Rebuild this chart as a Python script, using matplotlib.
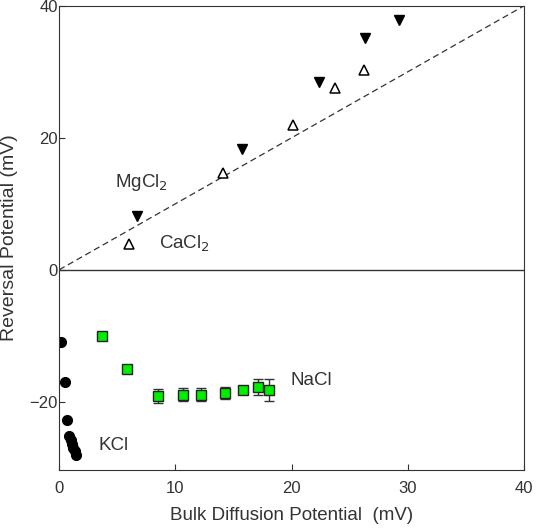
import matplotlib
matplotlib.use('Agg')
import matplotlib.pyplot as plt

plt.rcParams['font.family'] = ['Liberation Sans', 'DejaVu Sans']

# KCl (filled circles)
kcl_x = [0.17, 0.46, 0.66, 0.85, 1.0, 1.1, 1.2, 1.35, 1.45]
kcl_y = [-11.0, -17.0, -22.8, -25.2, -25.8, -26.4, -27.0, -27.5, -28.0]

# NaCl (green squares, with error bars)
nacl_x = [3.67, 5.82, 8.54, 10.69, 12.18, 14.3, 15.85, 17.08, 18.06]
nacl_y = [-10.0, -15.0, -19.1, -18.9, -18.9, -18.7, -18.2, -17.8, -18.2]
nacl_err = [0.0, 0.0, 1.1, 1.0, 1.0, 0.9, 0.6, 1.2, 1.7]

# MgCl2 (filled down triangles)
mg_x = [6.73, 15.7, 22.38, 26.3, 29.2]
mg_y = [8.2, 18.25, 28.4, 35.1, 37.9]

# CaCl2 (open up triangles)
ca_x = [6.05, 14.07, 20.15, 23.73, 26.2]
ca_y = [3.95, 14.7, 21.9, 27.5, 30.2]

fig = plt.figure(figsize=(5.38, 5.29), dpi=100)
ax = fig.add_axes([0.110, 0.112, 0.864, 0.877])

ax.plot([0, 40], [0, 40], color='#333333', ls=(0, (5, 3)), lw=0.9)
ax.axhline(0, color='#333333', lw=1.0)

ax.plot(kcl_x, kcl_y, 'o', color='black', ms=7, ls='none')
ax.errorbar(nacl_x, nacl_y, yerr=nacl_err, fmt='s', color='#00ee00', ms=7.5,
            mec='#222222', mew=1.0, ecolor='#333333', elinewidth=1.0,
            capsize=3.5, capthick=1.0)
ax.plot(mg_x, mg_y, 'v', color='black', ms=7, ls='none')
ax.plot(ca_x, ca_y, '^', mfc='white', mec='black', mew=1.1, ms=7, ls='none')

fs = 13.5
ax.text(4.8, 13.3, 'MgCl$_2$', fontsize=fs, va='center', color='#333333')
ax.text(8.55, 4.0, 'CaCl$_2$', fontsize=fs, va='center', color='#333333')
ax.text(19.9, -16.7, 'NaCl', fontsize=fs, va='center', color='#333333')
ax.text(3.35, -26.6, 'KCl', fontsize=fs, va='center', color='#333333')

ax.set_xlim(0, 40)
ax.set_ylim(-30.3, 40)
ax.set_xticks([0, 10, 20, 30, 40])
ax.set_yticks([-20, 0, 20, 40])
ax.tick_params(direction='in', length=4, labelsize=12, colors='#333333')
ax.tick_params(axis='x', pad=8)
ax.tick_params(axis='y', pad=1)
for s in ax.spines.values():
    s.set_color('#333333')
ax.set_xlabel('Bulk Diffusion Potential  (mV)', fontsize=fs, color='#333333', labelpad=8)
ax.set_ylabel('Reversal Potential (mV)', fontsize=14, color='#333333')
ax.yaxis.set_label_coords(-0.088, 0.5)

fig.savefig('out.png', dpi=100)
